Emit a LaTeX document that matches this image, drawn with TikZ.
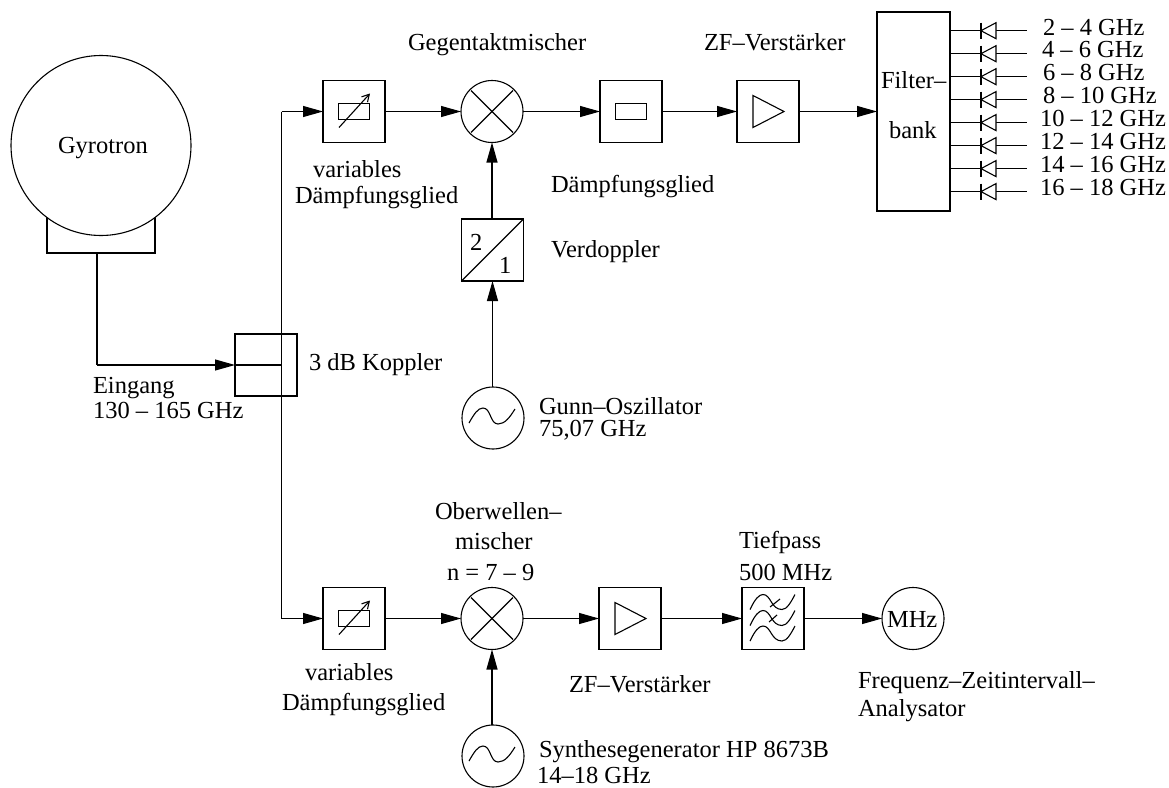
\documentclass[tikz,border=0pt]{standalone}
\usepackage{fontspec}
\setmainfont{Liberation Serif}
\usetikzlibrary{arrows.meta,calc}
\tikzset{
  x=1pt,y=-1pt,
  every node/.style={inner sep=0pt,outer sep=0pt},
  wire/.style={line width=1.1pt,-{Triangle[length=20pt,width=11pt]}},
  plain/.style={line width=1.1pt},
  blockbox/.style={draw,line width=1.1pt,minimum width=62pt,minimum height=62pt,fill=white},
  roundel/.style={draw,circle,line width=1.1pt,minimum size=62pt,fill=white},
  sym/.style={line width=1.1pt},
  txt/.style={font=\fontsize{24.5}{26}\selectfont,anchor=base west},
}
\newcommand{\filtwave}[2]{\draw[sym] (#1-23,#2+7.5) .. controls (#1-18,#2-3) and (#1-14,#2-7.5) .. (#1-10,#2-7.5) .. controls (#1-2,#2-7.5) and (#1-2,#2+7.5) .. (#1+9,#2+7.5) .. controls (#1+14,#2+7.5) and (#1+18,#2) .. (#1+22,#2-7.5);}
\begin{document}
\begin{tikzpicture}
\useasboundingbox (0,0) rectangle (1169,787);
% gyrotron
\node[draw,line width=1.1pt,minimum width=108pt,minimum height=63pt] (base) at (101,221.5) {};
\node[draw,circle,line width=1.1pt,minimum size=180pt,fill=white] (gyro) at (101,145.5) {};
\node[txt] (tgyro) at (58,153) {Gyrotron};
% coupler
\node[draw,line width=1.1pt,minimum width=62pt,minimum height=62pt] (kop) at (266,365) {};
\coordinate (kt) at (281.5,111.5);
\coordinate (kb) at (281.5,618.5);
\coordinate (bt) at (97,253);
\coordinate (bc) at (97,365);
% top row
\node[blockbox] (att1) at (354,111.5) {};
\node[roundel] (mix1) at (492,111.5) {};
\node[blockbox] (fix) at (631,111.5) {};
\node[blockbox] (amp1) at (768,111.5) {};
\node[draw,line width=1.1pt,minimum width=73pt,minimum height=199pt,fill=white] (fb) at (913.5,111.5) {};
\node[blockbox] (dbl) at (492.5,250) {};
\node[roundel] (gunn) at (493,418) {};
% bottom row
\node[blockbox] (att2) at (354,618.5) {};
\node[roundel] (mix2) at (492,618.5) {};
\node[blockbox] (amp2) at (630,618.5) {};
\node[blockbox] (lp) at (773,618.5) {};
\node[roundel] (mhz) at (913,618.5) {};
\node[roundel] (syn) at (493,756) {};
\node[txt] (tmhz) at (887,627) {MHz};
% connectors
\draw[plain] (kop.west) -- (kop.west -| kt);
\draw[plain] (bt) -- (bc);
\draw[wire] (bc) -- (kop.west);
\draw[plain] (kt) -- (kb);
\draw[wire] (kt) -- (att1.west);
\draw[wire] (kb) -- (att2.west);
\draw[wire] (att1) -- (mix1);
\draw[wire] (mix1) -- (fix);
\draw[wire] (fix) -- (amp1);
\draw[wire] (amp1) -- (fb);
\draw[wire] (dbl.north -| mix1) -- (mix1);
\draw[wire] (gunn.north -| dbl) -- (dbl.south);
\draw[wire] (att2) -- (mix2);
\draw[wire] (mix2) -- (amp2);
\draw[wire] (amp2) -- (lp);
\draw[wire] (lp) -- (mhz);
\draw[wire] (syn.north -| mix2) -- (mix2);
% symbols
\foreach \c in {att1,att2}{
  \draw[sym] ($(\c)+(-15.5,-8)$) rectangle ($(\c)+(15.5,8)$);
  \draw[sym,-{Straight Barb[length=7pt,width=8pt]}] ($(\c)+(-15,16)$) -- ($(\c)+(16,-18)$);
}
\draw[sym] ($(fix)+(-15.5,-8)$) rectangle ($(fix)+(15.5,8)$);
\foreach \c in {amp1,amp2}{
  \draw[sym] ($(\c)+(-15,-16)$) -- ($(\c)+(-15,16)$) -- ($(\c)+(16,0)$) -- cycle;
}
\foreach \c in {mix1,mix2}{
  \draw[sym] ($(\c)+(-21,-21)$) -- ($(\c)+(21,21)$);
  \draw[sym] ($(\c)+(-21,21)$) -- ($(\c)+(21,-21)$);
}
\draw[plain] (dbl.south west) -- (dbl.north east);
\node[txt] (d2) at (470,250) {2};
\node[txt] (d1) at (499,273) {1};
\foreach \c in {gunn,syn}{
  \begin{scope}[shift={(\c)}]
  \draw[sym] (-24,5) .. controls (-19,-4) and (-15,-10) .. (-10,-10) .. controls (-2,-10) and (-3,6) .. (5,6) .. controls (12,6) and (17,-1) .. (22,-9);
  \end{scope}
}
\filtwave{773}{602}
\filtwave{773}{618}
\filtwave{773}{633.5}
\draw[sym] (770,607) -- (780,599);
\draw[sym] (769,622) -- (777,615);
% filter outputs
\foreach \y/\n in {30.7/a,53.7/b,76.7/c,99.6/d,122.6/e,145.6/f,168.6/g,191.6/h}{
  \coordinate (o\n) at (950,\y);
  \coordinate (e\n) at (1027,\y);
  \draw[plain] (o\n) -- (e\n);
  \draw[sym,fill=white] (996,\y-8) -- (981,\y) -- (996,\y+8) -- cycle;
  \draw[sym] (981,\y-8) -- (981,\y+8);
}
\node[txt] (g1) at (1043,35) {2 – 4 GHz};
\node[txt] (g2) at (1042,57.5) {4 – 6 GHz};
\node[txt] (g3) at (1043,80.5) {6 – 8 GHz};
\node[txt] (g4) at (1043,103.5) {8 – 10 GHz};
\node[txt] (g5) at (1040,126.5) {10 – 12 GHz};
\node[txt] (g6) at (1040,149.5) {12 – 14 GHz};
\node[txt] (g7) at (1040,172.5) {14 – 16 GHz};
\node[txt] (g8) at (1040,195.5) {16 – 18 GHz};
\node[txt] (tfb1) at (881,88) {Filter–};
\node[txt] (tfb2) at (889,138) {bank};
% labels
\node[txt] (t1) at (408,50) {Gegentaktmischer};
\node[txt] (t2) at (704,50) {ZF–Verstärker};
\node[txt] (t3a) at (313,177) {variables};
\node[txt] (t3b) at (295,203) {Dämpfungsglied};
\node[txt] (t4) at (551,192) {Dämpfungsglied};
\node[txt] (t5) at (551,257) {Verdoppler};
\node[txt] (t6) at (309,370) {3 dB Koppler};
\node[txt] (t7a) at (93,393) {Eingang};
\node[txt] (t7b) at (93,418) {130 – 165 GHz};
\node[txt] (t8a) at (539,414) {Gunn–Oszillator};
\node[txt] (t8b) at (539,436) {75,07 GHz};
\node[txt] (t9a) at (435,519) {Oberwellen–};
\node[txt] (t9b) at (455,549) {mischer};
\node[txt] (t9c) at (447,580) {n = 7 – 9};
\node[txt] (t10a) at (739,548) {Tiefpass};
\node[txt] (t10b) at (739,580) {500 MHz};
\node[txt] (t11a) at (305,680) {variables};
\node[txt] (t11b) at (282,710) {Dämpfungsglied};
\node[txt] (t12) at (569,692) {ZF–Verstärker};
\node[txt] (t13a) at (858,688) {Frequenz–Zeitintervall–};
\node[txt] (t13b) at (858,716) {Analysator};
\node[txt] (t14a) at (539,757) {Synthesegenerator HP 8673B};
\node[txt] (t14b) at (537,783) {14–18 GHz};
\end{tikzpicture}
\end{document}
